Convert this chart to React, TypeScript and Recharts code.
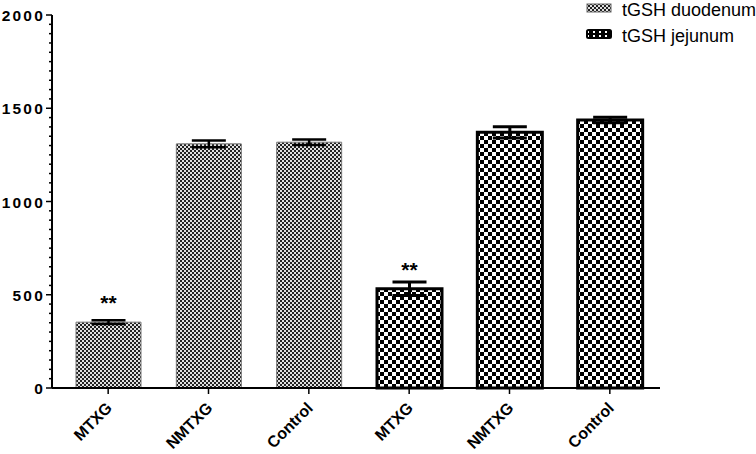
import { BarChart, Bar, XAxis, YAxis, ErrorBar, Legend, LabelList } from "recharts";

const categories = ["MTXG", "NMTXG", "Control", "MTXG", "NMTXG", "Control"];
const duodenum   = [353, 1309, 1318, null, null, null];
const duodErr    = [10, 18, 15, null, null, null];
const jejunum    = [null, null, null, 532, 1371, 1437];
const jejuErr    = [null, null, null, 36, 30, 15];
const signif     = ["**", "", "", "**", "", ""];
const yTicks     = Array.from({ length: 41 }, (_, i) => i * 50);

const data = categories.map((name, i) => ({
  key:      `${name}-${i}`,
  name,
  duodenum: duodenum[i],
  duodErr:  duodErr[i],
  jejunum:  jejunum[i],
  jejuErr:  jejuErr[i],
  sig:      signif[i],
}));

const FONT = "Arial, 'Liberation Sans', Helvetica, sans-serif";

// eslint-disable-next-line @typescript-eslint/no-explicit-any
function YTick({ x, y, payload }: any) {
  const v = payload.value as number;
  const major = v % 500 === 0;
  const axisX = x + 10;
  return (
    <g>
      <line x1={axisX - (major ? 6 : 3)} x2={axisX} y1={y} y2={y} stroke="#000" strokeWidth={1.5} />
      {major && (
        <text x={axisX - 7} y={y} dy={6} textAnchor="end" fontFamily={FONT}
              fontWeight="bold" fontSize={15.5} letterSpacing={2.2} fill="#000">{v}</text>
      )}
    </g>
  );
}

// eslint-disable-next-line @typescript-eslint/no-explicit-any
function XTick({ x, y, payload }: any) {
  const label = categories[payload.index] ?? payload.value;
  return (
    <text x={x + 5} y={y + 13} textAnchor="end" fontFamily={FONT} fontWeight="bold"
          fontSize={16} fill="#000" transform={`rotate(-45 ${x + 5} ${y + 13})`}>
      {label}
    </text>
  );
}

// eslint-disable-next-line @typescript-eslint/no-explicit-any
function Stars({ x, y, width, value }: any) {
  if (!value) return null;
  return (
    <text x={x + width / 2} y={y - 12} textAnchor="middle" fontFamily={FONT}
          fontWeight="bold" fontSize={21} fill="#000">{value}</text>
  );
}

function LegendBox() {
  return (
    <div style={{ fontFamily: FONT, fontSize: 18, color: "#000", lineHeight: "26px", whiteSpace: "nowrap" }}>
      <div style={{ display: "flex", alignItems: "center" }}>
        <svg width={36} height={14}>
          <rect x={1} y={1} width={24} height={8} fill="url(#duo)" stroke="#666" strokeWidth={1} />
        </svg>
        <span>tGSH duodenum</span>
      </div>
      <div style={{ display: "flex", alignItems: "center" }}>
        <svg width={36} height={14}>
          <rect x={1} y={1} width={24} height={8} rx={1.5} fill="url(#jejLeg)" stroke="#000" strokeWidth={2} />
        </svg>
        <span>tGSH jejunum</span>
      </div>
    </div>
  );
}

export default function App() {
  return (
    <div style={{ position: "absolute", left: 0, top: 0, width: 756, height: 454 }}>
      <BarChart width={756} height={454} data={data} barSize={65} barGap={-65}
                margin={{ top: 15, right: 96, left: 0, bottom: 0 }}>
        <defs>
          <pattern id="duo" width={4} height={4} patternUnits="userSpaceOnUse">
            <rect width={4} height={4} fill="#e0e0e0" />
            <rect width={2} height={2} fill="#222" />
            <rect x={2} y={2} width={2} height={2} fill="#222" />
          </pattern>
          <pattern id="jej" width={8} height={8} patternUnits="userSpaceOnUse">
            <rect width={8} height={8} fill="#fff" />
            <rect width={4} height={4} fill="#000" />
            <rect x={4} y={4} width={4} height={4} fill="#000" />
          </pattern>
          <pattern id="jejLeg" width={6} height={4} patternUnits="userSpaceOnUse">
            <rect width={6} height={4} fill="#000" />
            <rect x={1} y={2} width={2} height={2} fill="#fff" />
          </pattern>
        </defs>
        <XAxis
          dataKey="key"
          tick={<XTick />}
          tickLine={{ stroke: "#000", strokeWidth: 1.5 }}
          tickSize={6}
          axisLine={{ stroke: "#000", strokeWidth: 2 }}
          height={66}
          interval={0}
          padding={{ left: 6, right: 0 }}
        />
        <YAxis
          domain={[0, 2000]}
          ticks={yTicks}
          interval={0}
          tick={<YTick />}
          tickLine={false}
          tickSize={6}
          tickMargin={4}
          axisLine={{ stroke: "#000", strokeWidth: 2 }}
          width={52}
        />
        <Legend
          layout="horizontal"
          verticalAlign="middle"
          align="center"
          content={<LegendBox />}
          wrapperStyle={{ position: "absolute", top: -3, left: 586, width: 170, height: 52 }}
        />
        <Bar dataKey="duodenum" name="tGSH duodenum" fill="url(#duo)" stroke="#777"
             strokeWidth={1} isAnimationActive={false}>
          <ErrorBar dataKey="duodErr" width={17} stroke="#000" strokeWidth={2.5} />
          <LabelList dataKey="sig" content={<Stars />} />
        </Bar>
        <Bar dataKey="jejunum" name="tGSH jejunum" fill="url(#jej)" stroke="#000"
             strokeWidth={3} isAnimationActive={false}>
          <ErrorBar dataKey="jejuErr" width={17} stroke="#000" strokeWidth={3} />
          <LabelList dataKey="sig" content={<Stars />} />
        </Bar>
      </BarChart>
    </div>
  );
}
